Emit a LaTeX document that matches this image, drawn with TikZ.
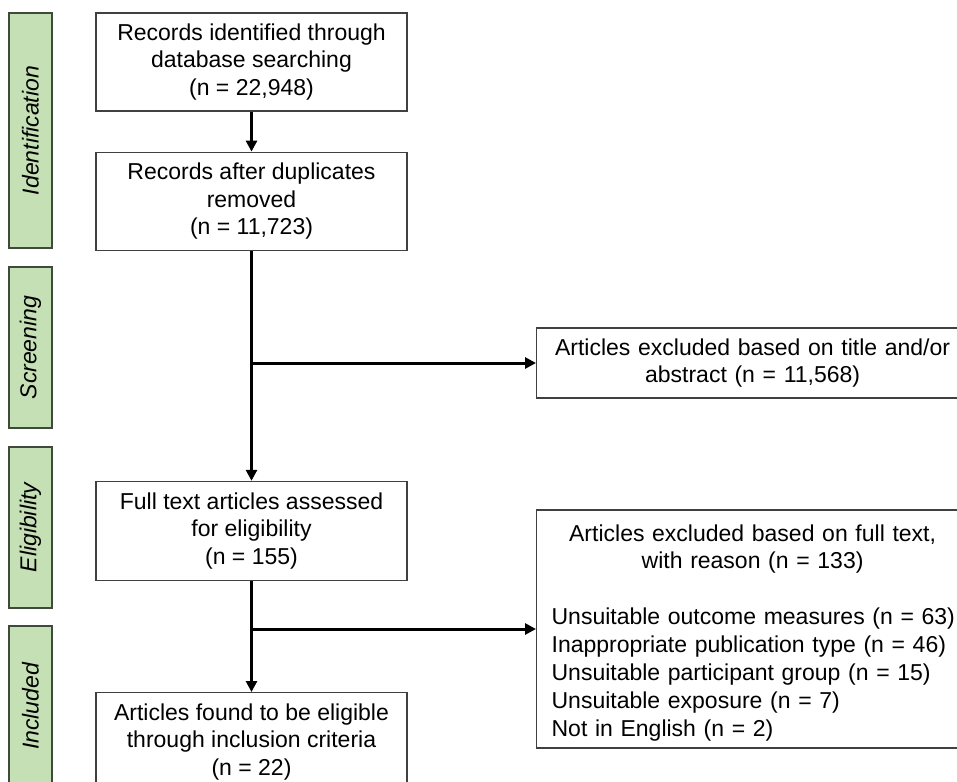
\documentclass[tikz,border=0pt]{standalone}
\usepackage{fontspec}
\setmainfont{Liberation Sans}
\usepackage{tikz}
\usetikzlibrary{arrows.meta,positioning}
\definecolor{stagegreen}{HTML}{C5E0B4}
\definecolor{stageline}{HTML}{3F4A3A}
\tikzstyle{box} = [rectangle, draw=black!75, line width=1.2pt, align=center, inner sep=0pt, minimum width=311pt, minimum height=98pt, font=\fontsize{23}{27.5}\selectfont]
\tikzstyle{excl} = [rectangle, draw=black!75, line width=1.2pt, anchor=west, inner xsep=15pt, inner ysep=0pt, text width=402pt, font=\fontsize{23}{27.5}\selectfont]
\tikzstyle{stage} = [rectangle, fill=stagegreen, draw=stageline, line width=1.2pt, rotate=90, inner sep=0pt, minimum height=43pt, font=\fontsize{23}{27.5}\selectfont\itshape]
\tikzstyle{arr} = [black, line width=3pt, -{Triangle[width=11pt,length=11pt]}]

\begin{document}
\begin{tikzpicture}[x=1pt, y=-1pt]
		\useasboundingbox (0,0) rectangle (957,781);
		\clip (0,0) rectangle (957,781);

		% stages
		\node[stage, minimum width=235pt] (ident) at (30.5,130.5) {Identification};
		\node[stage, minimum width=161pt] (screen) at (30.5,347.5) {Screening};
		\node[stage, minimum width=161pt] (elig) at (30.5,527.5) {Eligibility};
		\node[stage, minimum width=161pt] (incl) at (30.5,706.5) {Included};

		% main flow
		\node[box] (found) at (251.5,62) {Records identified through\\database searching\\(n = 22,948)};
		\node[box, below=40pt of found] (dedup) {Records after duplicates\\removed\\(n = 11,723)};
		\node[box, below=230pt of dedup, minimum height=99pt] (full) {Full text articles assessed\\for eligibility\\(n = 155)};
		\node[box, below=111pt of full] (final) {Articles found to be eligible\\through inclusion criteria\\(n = 22)};

		% exclusions
		\node[excl, align=center, minimum height=70pt] (exclta) at (536,363) {Articles excluded based on title and/or\\abstract (n = 11,568)};
		\node[excl, minimum height=238pt] (exclft) at (536,629) {{\centering\rule{0pt}{28pt}Articles excluded based on full text,\\with reason (n = 133)\par}\vspace{28pt}\noindent
			\renewcommand{\arraystretch}{1.02}%
			\begin{tabular}[t]{@{}l@{}}
			Unsuitable outcome measures (n = 63)\\
			Inappropriate publication type (n = 46)\\
			Unsuitable participant group (n = 15)\\
			Unsuitable exposure (n = 7)\\
			Not in English (n = 2)
			\end{tabular}};

		\coordinate (brta) at (dedup.south |- exclta.west);
		\coordinate (brft) at (full.south |- exclft.west);

		\draw[arr] (found) -- (dedup);
		\draw[arr] (dedup) -- (full);
		\draw[arr] (brta) -- (exclta);
		\draw[arr] (full) -- (final);
		\draw[arr] (brft) -- (exclft);
\end{tikzpicture}
\end{document}
